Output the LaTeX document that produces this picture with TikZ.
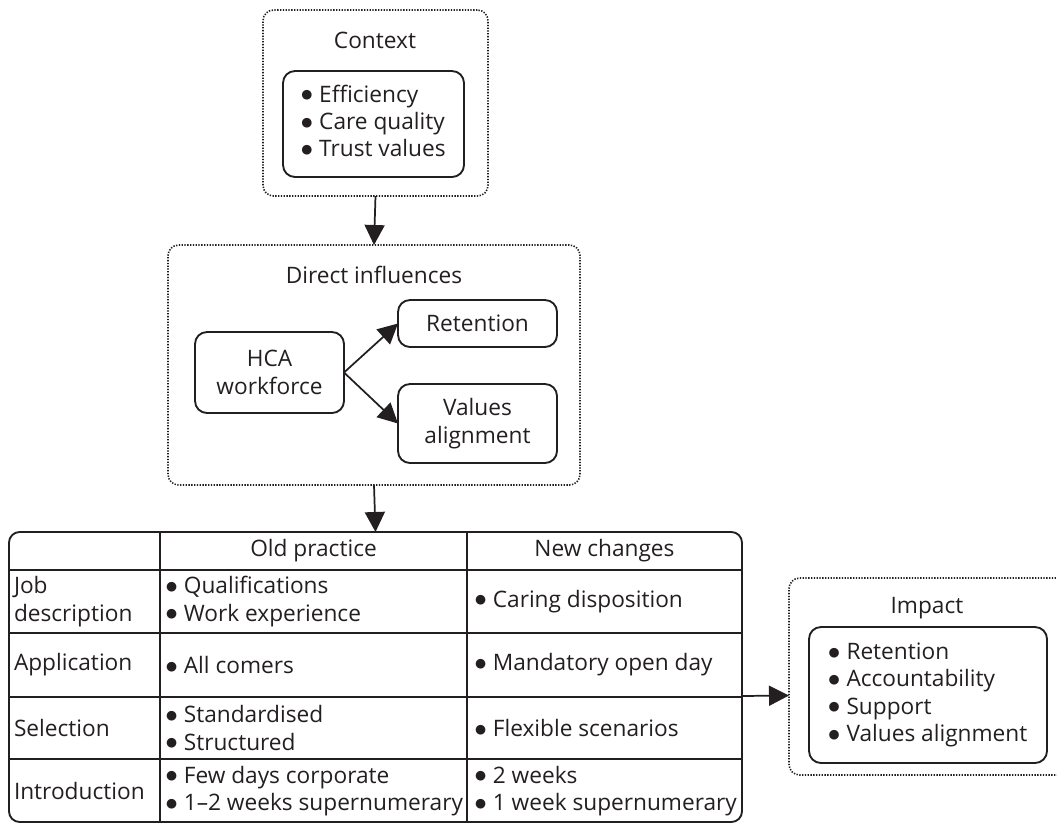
\documentclass[tikz,border=0pt]{standalone}
\usepackage{fontspec}
\setmainfont{Open Sans}
\newfontfamily\bulfont{DejaVu Sans}
\usetikzlibrary{arrows.meta,calc}
\definecolor{ink}{HTML}{231F20}
\newcommand{\bul}{\raisebox{2.6pt}{\bulfont\fontsize{9.5}{9.5}\selectfont ●}\hspace{0.3em}}
\begin{document}
\begin{tikzpicture}[x=0.75pt,y=-0.75pt,
  every node/.style={font=\fontsize{17}{20.5}\selectfont, text=ink, inner sep=0pt, outer sep=0pt},
  dotbox/.style={draw=ink, line width=1.2pt, dash pattern=on 1pt off 1.1pt, rounded corners=8pt},
  solidbox/.style={draw=ink, line width=1.4pt, rounded corners=9pt, align=center},
  arr/.style={draw=ink, line width=1.3pt, -{Triangle[length=15pt,width=15pt]}},
  cell/.style={anchor=west, align=left},
  grid/.style={draw=ink, line width=1.4pt}]
\useasboundingbox (0,0) rectangle (1057,825);

% Context
\node[dotbox, minimum width=168.75pt, minimum height=139.5pt] (ctx) at (375.5,103) {};
\node (ctxt) at (375,40) {Context};
\node[solidbox, minimum width=135.75pt, minimum height=79.5pt] (ctxi) at (373.5,124)
  {\begin{tabular}{@{}l@{}}\bul Efficiency\\ \bul Care quality\\ \bul Trust values\end{tabular}};

% Direct influences
\node[dotbox, minimum width=309pt, minimum height=180pt] (di) at (374,365) {};
\node (dit) at (374,275) {Direct influences};
\node[solidbox, minimum width=111.75pt, minimum height=60.75pt] (hca) at (269.5,372.5) {HCA\\workforce};
\node[solidbox, minimum width=119.25pt, minimum height=35.25pt] (ret) at (477.5,323.5) {Retention};
\node[solidbox, minimum width=119.25pt, minimum height=59.25pt] (val) at (477.5,423.5) {Values\\alignment};
\draw[arr] (hca.east) -- (ret.west);
\draw[arr] (hca.east) -- (val.west);

% Table
\node[draw=ink, line width=1.4pt, rounded corners=8pt, minimum width=549.75pt, minimum height=217.5pt] (tbl) at (375.5,677) {};
\draw[grid] (160,532) -- (160,822);
\draw[grid] (467,532) -- (467,822);
\foreach \yy in {570,633,697,759} \draw[grid] (9,\yy) -- (742,\yy);

\node (h2) at (313.5,551) {Old practice};
\node (h3) at (604.5,551) {New changes};

\node[cell] (r1a) at (14,601.5) {Job\\description};
\node[cell] (r1b) at (166,601.5) {\bul Qualifications\\\bul Work experience};
\node[cell] (r1c) at (475,601.5) {\bul Caring disposition};

\node[cell] (r2a) at (14,665) {Application};
\node[cell] (r2b) at (166,665) {\bul All comers};
\node[cell] (r2c) at (475,665) {\bul Mandatory open day};

\node[cell] (r3a) at (14,728) {Selection};
\node[cell] (r3b) at (166,728) {\bul Standardised\\\bul Structured};
\node[cell] (r3c) at (475,728) {\bul Flexible scenarios};

\node[cell] (r4a) at (14,791) {Introduction};
\node[cell] (r4b) at (166,791) {\bul Few days corporate\\\bul 1–2 weeks supernumerary};
\node[cell] (r4c) at (475,791) {\bul 2 weeks\\\bul 1 week supernumerary};

% Impact
\node[dotbox, minimum width=214.5pt, minimum height=147.75pt] (imp) at (932,676.5) {};
\node (impt) at (927,608) {Impact};
\node[solidbox, minimum width=178.5pt, minimum height=102pt] (impi) at (928,695)
  {\begin{tabular}{@{}l@{}}\bul Retention\\ \bul Accountability\\ \bul Support\\ \bul Values alignment\end{tabular}};

% Connectors
\draw[arr] (ctx.south) -- (di.north);
\draw[arr] (di.south) -- (tbl.north);
\draw[arr] ([yshift=-14.25pt]tbl.east) -- ([yshift=-14.25pt]imp.west);
\end{tikzpicture}
\end{document}
